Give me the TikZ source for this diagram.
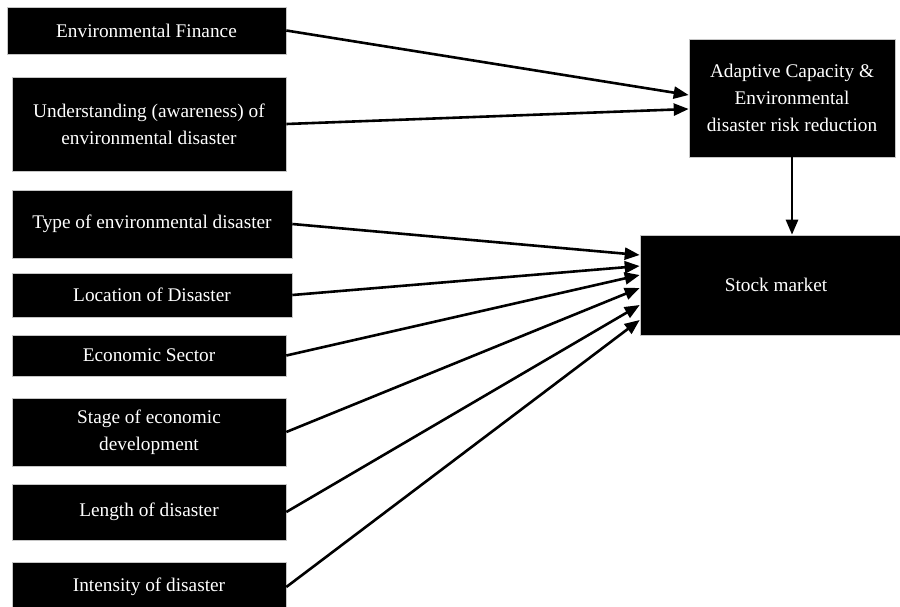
\documentclass[tikz,border=0pt]{standalone}
\usepackage{fontspec}
\setmainfont{Liberation Serif}
\usetikzlibrary{positioning,arrows.meta,calc}

\begin{document}
\begin{tikzpicture}[x=1pt,y=-1pt,
      bloque/.style={draw=gray!45,line width=0.6pt,fill=black,text=white,inner sep=0pt,
                     align=center,font=\fontsize{19.3}{27}\selectfont},
      enlace/.style={-{Triangle[length=15pt,width=12pt]},line width=2.6pt,black}]
    \useasboundingbox (0,0) rectangle (900,606);
    % factores de la izquierda
    \node[bloque,minimum width=279pt,minimum height=47pt] (fin) at (146.5,30.5) {Environmental Finance};
    \node[bloque,minimum width=274pt,minimum height=94pt] (con) at (149,124) {Understanding (awareness) of\\environmental disaster};
    \node[bloque,minimum width=280pt,minimum height=68pt] (tip) at (152,224) {Type of environmental disaster};
    \node[bloque,minimum width=280pt,minimum height=44pt] (loc) at (152,295) {Location of Disaster};
    \node[bloque,minimum width=274pt,minimum height=41pt] (sec) at (149,355.5) {Economic Sector};
    \node[bloque,minimum width=274pt,minimum height=68pt] (eta) at (149,432) {Stage of economic\\development};
    \node[bloque,minimum width=274pt,minimum height=56pt] (dur) at (149,512) {Length of disaster};
    \node[bloque,minimum width=274pt,minimum height=50pt] (int) at (149,587) {Intensity of disaster};
    % a la derecha
    \node[bloque,minimum width=206pt,minimum height=118pt] (ada) at (792,98) {Adaptive Capacity \&\\Environmental\\disaster risk reduction};
    \node[bloque,minimum width=272pt,minimum height=100pt] (bol) at (776,285) {Stock market};
    % flechas
    \draw[enlace] (fin.east) -- ($(ada.west)+(0,-3)$);
    \draw[enlace] (con.east) -- ($(ada.west)+(0,11)$);
    \draw[enlace] (ada.south -| 792,0) -- (bol.north -| 792,0);
    \draw[enlace] (tip.east) -- ($(bol.west)+(0,-30)$);
    \draw[enlace] (loc.east) -- ($(bol.west)+(0,-19)$);
    \draw[enlace] (sec.east) -- ($(bol.west)+(0,-10)$);
    \draw[enlace] (eta.east) -- ($(bol.west)+(0,3)$);
    \draw[enlace] (dur.east) -- ($(bol.west)+(0,20)$);
    \draw[enlace] (int.east) -- ($(bol.west)+(0,35)$);
  \end{tikzpicture}
\end{document}
